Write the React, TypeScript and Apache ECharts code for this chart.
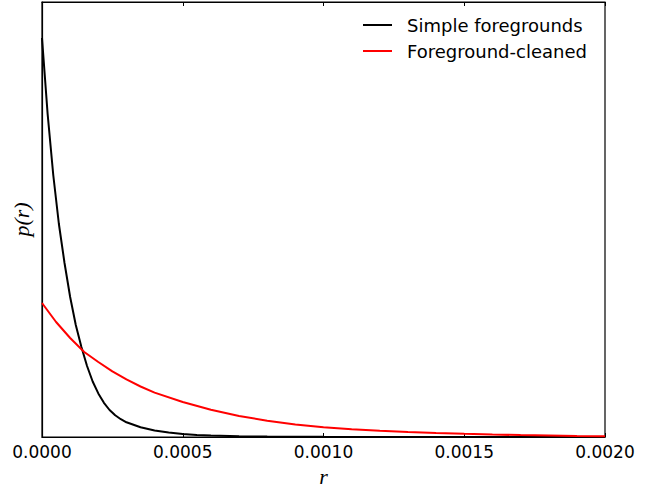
import React, { useEffect, useRef } from "react";
import * as echarts from "echarts";

const rBlack = [0, 0.00002, 0.00004, 0.00006, 0.00008, 0.0001, 0.00012, 0.00014, 0.00016, 0.00018, 0.0002, 0.00022, 0.00024, 0.00026, 0.00028, 0.0003, 0.00035, 0.0004, 0.00045, 0.0005, 0.00055, 0.0006, 0.0007, 0.0008, 0.001, 0.0012, 0.0014, 0.0016, 0.0018, 0.002];
const pBlack = [3.99, 3.23, 2.62, 2.13, 1.74, 1.4, 1.12, 0.9, 0.71, 0.555, 0.436, 0.342, 0.27, 0.217, 0.178, 0.147, 0.097, 0.066, 0.045, 0.031, 0.021, 0.015, 0.008, 0.0045, 0.0013, 0.0004, 0.0001, 0, 0, 0];

const rRed = [0, 0.00005, 0.0001, 0.00015, 0.0002, 0.00025, 0.0003, 0.00035, 0.0004, 0.0005, 0.0006, 0.0007, 0.0008, 0.0009, 0.001, 0.0011, 0.0012, 0.0013, 0.0014, 0.0015, 0.0016, 0.0017, 0.0018, 0.0019, 0.002];
const pRed = [1.34, 1.15, 0.99, 0.85, 0.75, 0.657, 0.576, 0.505, 0.444, 0.35, 0.272, 0.21, 0.163, 0.126, 0.098, 0.078, 0.063, 0.051, 0.041, 0.032, 0.025, 0.019, 0.015, 0.011, 0.008];

const seriesNames = ["Simple foregrounds", "Foreground-cleaned"];
const xTicks = [0, 0.0005, 0.001, 0.0015, 0.002];

export default function App() {
  const ref = useRef<HTMLDivElement>(null);
  useEffect(() => {
    if (!ref.current) return;
    const chart = echarts.init(ref.current, undefined, { renderer: "svg" });
    const font = "DejaVu Sans";
    const xCommon = {
      type: "value",
      min: xTicks[0],
      max: xTicks[xTicks.length - 1],
      interval: 0.0005,
      splitLine: { show: false },
      axisLine: { show: true, lineStyle: { color: "#000", width: 1.2 } },
      axisTick: { show: true, inside: true, length: 4, lineStyle: { color: "#000", width: 1 } },
    };
    chart.setOption({
      animation: false,
      backgroundColor: "#fff",
      grid: {
        left: 42,
        right: 60,
        top: 2,
        bottom: 51,
        outerBoundsMode: "none",
        containLabel: false,
        show: true,
        borderColor: "#000",
        borderWidth: 1.2,
        backgroundColor: "transparent",
      },
      legend: {
        orient: "vertical",
        left: 358,
        top: 10,
        itemWidth: 29,
        itemHeight: 2,
        itemGap: 6,
        icon: "rect",
        textStyle: {
          fontFamily: font,
          fontSize: 18,
          color: "#000",
          lineHeight: 20,
          padding: [0, 0, 0, 10],
        },
        data: seriesNames,
      },
      xAxis: [
        {
          ...xCommon,
          position: "bottom",
          axisLabel: {
            show: true,
            margin: 6,
            fontFamily: font,
            fontSize: 17,
            color: "#000",
            formatter: (v: number) => v.toFixed(4),
          },
          name: "r",
          nameLocation: "middle",
          nameGap: 30,
          nameTextStyle: {
            fontFamily: "Liberation Serif",
            fontStyle: "italic",
            fontSize: 22,
            lineHeight: 18,
            color: "#000",
          },
        },
        {
          ...xCommon,
          position: "top",
          axisLabel: { show: false },
        },
      ],
      yAxis: {
        type: "value",
        min: 0,
        max: 4.35,
        splitLine: { show: false },
        axisTick: { show: false },
        axisLabel: { show: false },
        axisLine: { show: true, lineStyle: { color: "#000", width: 1.2 } },
        name: "p(r)",
        nameLocation: "middle",
        nameGap: 10,
        nameTextStyle: {
          fontFamily: "Liberation Serif",
          fontStyle: "italic",
          fontSize: 22,
          color: "#000",
        },
      },
      series: [
        {
          name: seriesNames[0],
          type: "line",
          data: rBlack.map((r, i) => [r, pBlack[i]]),
          showSymbol: false,
          lineStyle: { color: "#000", width: 2 },
          itemStyle: { color: "#000" },
        },
        {
          name: seriesNames[1],
          type: "line",
          data: rRed.map((r, i) => [r, pRed[i]]),
          showSymbol: false,
          lineStyle: { color: "#ff0000", width: 2 },
          itemStyle: { color: "#ff0000" },
        },
      ],
    });
    return () => chart.dispose();
  }, []);
  return (
    <div
      ref={ref}
      style={{ position: "fixed", left: 0, top: 0, width: 665, height: 488 }}
    />
  );
}
